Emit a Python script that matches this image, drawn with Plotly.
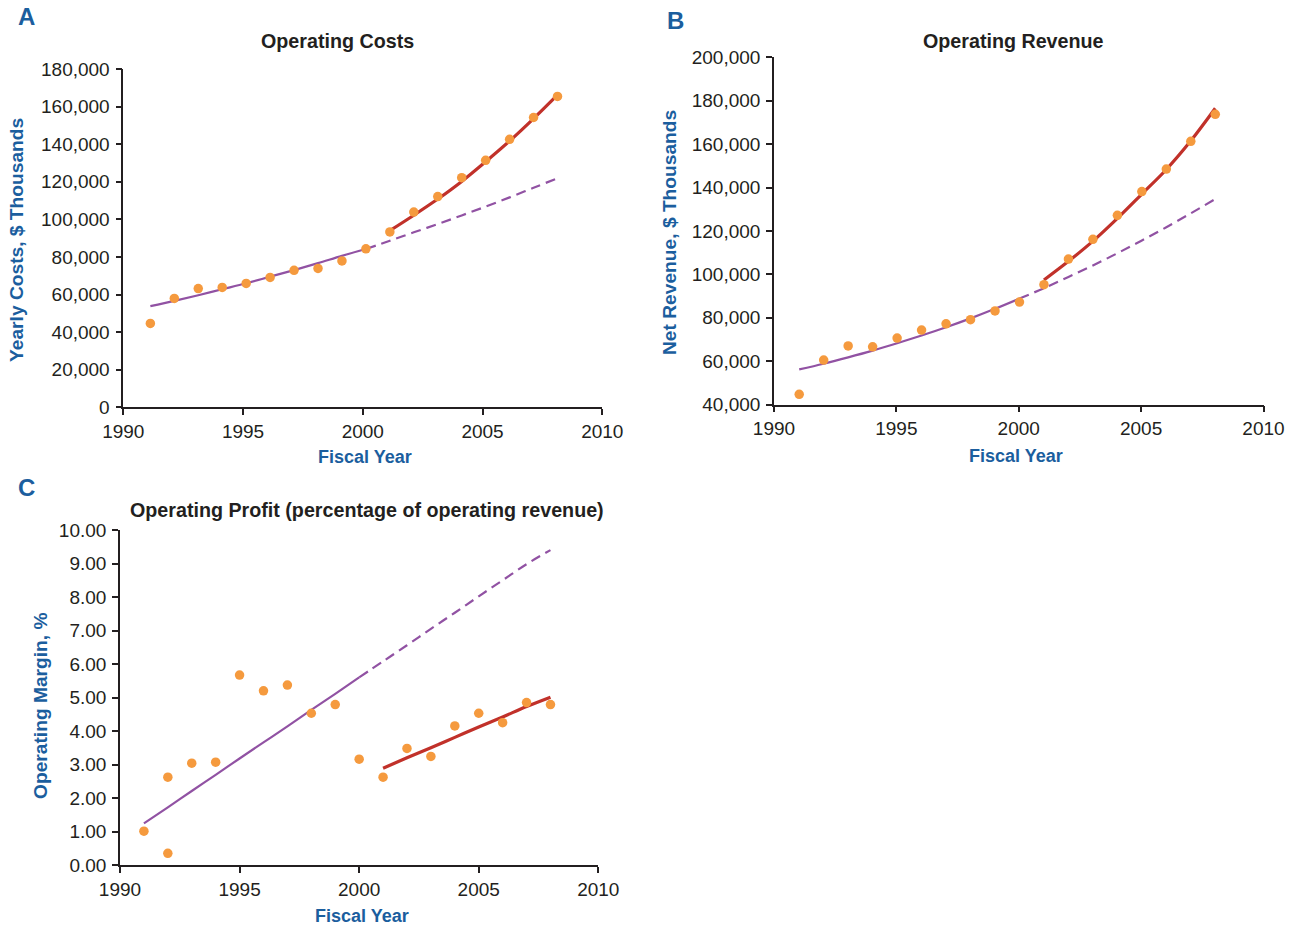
import plotly.graph_objects as go

W, H = 1299, 927

# ---------------- data ----------------
years = [1991, 1992, 1993, 1994, 1995, 1996, 1997, 1998, 1999,
         2000, 2001, 2002, 2003, 2004, 2005, 2006, 2007, 2008]
years_late = [2001, 2002, 2003, 2004, 2005, 2006, 2007, 2008]

# A: operating costs, $ thousands
costs = [44600, 57900, 63200, 63800, 65900, 69100, 72900, 73900, 77900,
         84300, 93300, 103900, 112100, 122200, 131400, 142600, 154200, 165400]
costs_trend_early = [53800, 56600, 59600, 62800, 66000, 69500, 73000, 76700, 80600,
                     84200, 88600, 93100, 97500, 102100, 106800, 111700, 116800, 121900]
costs_trend_late = [94000, 102200, 110800, 120200, 130700, 141700, 153600, 166200]

# B: net operating revenue, $ thousands
revenue = [44700, 60500, 67000, 66600, 70600, 74300, 77200, 79100, 83100,
           87200, 95200, 107000, 116100, 127200, 138100, 148500, 161300, 173700]
revenue_trend_early = [56200, 58800, 61700, 64800, 68200, 71800, 75600, 79700, 84100,
                       88800, 93600, 98800, 104100, 109700, 115600, 121700, 128100, 134700]
revenue_trend_late = [97400, 106000, 115300, 125800, 137000, 148300, 161500, 176500]

# C: operating margin, %
margin_years = [1991, 1992, 1992, 1993, 1994, 1995, 1996, 1997, 1998, 1999,
                2000, 2001, 2002, 2003, 2004, 2005, 2006, 2007, 2008]
margin = [1.01, 0.35, 2.62, 3.04, 3.07, 5.67, 5.20, 5.37, 4.53, 4.79,
          3.16, 2.62, 3.48, 3.24, 4.15, 4.53, 4.25, 4.85, 4.79]
margin_trend_early = [1.24, 1.72, 2.21, 2.69, 3.18, 3.66, 4.14, 4.63, 5.11,
                      5.60, 6.08, 6.56, 7.05, 7.53, 8.02, 8.50, 8.98, 9.40]
margin_trend_late = [2.89, 3.20, 3.50, 3.81, 4.12, 4.42, 4.73, 5.01]

x_ticks = [1990, 1995, 2000, 2005, 2010]

# ---------------- styling ----------------
DOT = "#f59a3e"
PURPLE = "#9152a3"
RED = "#c1312a"
BLUE = "#1b5e9e"
INK = "#231f20"
FONT = "Liberation Sans, Arial, sans-serif"

# small per-panel shift: values are plotted mid fiscal year in A
shift = {"A": 0.13, "B": 0.03, "C": 0.0}


def px(x):
    return x / W


def py(y):
    return 1 - y / H


def sx(xs, key):
    return [v + shift[key] for v in xs]


fig = go.Figure()


def add_panel(key, xa, ya, xs_pts, ys_pts, trend_early, trend_late, red_w=3.2):
    n_solid = 10  # fiscal 1991-2000 fitted, later years projected
    fig.add_trace(go.Scatter(
        x=sx(years[:n_solid], key), y=trend_early[:n_solid], mode="lines",
        line=dict(color=PURPLE, width=2.2, shape="spline"),
        xaxis=xa, yaxis=ya, hoverinfo="skip"))
    fig.add_trace(go.Scatter(
        x=sx(years[n_solid - 1:], key), y=trend_early[n_solid - 1:], mode="lines",
        line=dict(color=PURPLE, width=2.2, dash="10px,6px", shape="spline"),
        xaxis=xa, yaxis=ya, hoverinfo="skip"))
    fig.add_trace(go.Scatter(
        x=sx(years_late, key), y=trend_late, mode="lines",
        line=dict(color=RED, width=red_w, shape="spline"),
        xaxis=xa, yaxis=ya, hoverinfo="skip"))
    fig.add_trace(go.Scatter(
        x=sx(xs_pts, key), y=ys_pts, mode="markers",
        marker=dict(color=DOT, size=9.5, line=dict(width=0)),
        xaxis=xa, yaxis=ya))


add_panel("A", "x", "y", years, costs, costs_trend_early, costs_trend_late)
add_panel("B", "x2", "y2", years, revenue, revenue_trend_early, revenue_trend_late)
add_panel("C", "x3", "y3", margin_years, margin, margin_trend_early, margin_trend_late)

axis_common = dict(
    showline=True, linecolor=INK, linewidth=1.6,
    ticks="outside", ticklen=6, tickwidth=1.6, tickcolor=INK,
    showgrid=False, zeroline=False, automargin=False,
    tickfont=dict(family=FONT, size=19, color=INK),
)

xa_common = dict(axis_common, range=[1990, 2010], tickvals=x_ticks)
ya_common = dict(axis_common, ticklabelstandoff=2)

fig.update_layout(
    template="none",
    width=W, height=H,
    margin=dict(l=0, r=0, t=0, b=0, pad=0),
    paper_bgcolor="white", plot_bgcolor="white",
    showlegend=False,
    xaxis=dict(xa_common, domain=[px(123.3), px(602.3)], anchor="y"),
    yaxis=dict(ya_common, domain=[py(407.3), py(69)], anchor="x",
               range=[0, 180000], dtick=20000, tickformat=","),
    xaxis2=dict(xa_common, domain=[px(774), px(1263.5)], anchor="y2"),
    yaxis2=dict(ya_common, domain=[py(404.5), py(57.3)], anchor="x2",
                range=[40000, 200000], dtick=20000, tickformat=","),
    xaxis3=dict(xa_common, domain=[px(120), px(598.3)], anchor="y3"),
    yaxis3=dict(ya_common, domain=[py(865), py(530)], anchor="x3",
                range=[0, 10], dtick=1, tickformat=".2f"),
)

annotations = []


def text(x, y, s, size, color, bold=True, angle=0):
    annotations.append(dict(
        x=px(x), y=py(y), xref="paper", yref="paper",
        text=f"<b>{s}</b>" if bold else s, showarrow=False,
        xanchor="center", yanchor="middle", textangle=angle,
        font=dict(family=FONT, size=size, color=color)))


# panel letters
text(27, 17, "A", 24, BLUE)
text(676, 20, "B", 24, BLUE)
text(27, 487, "C", 24, BLUE)

# panel titles
text(337, 41, "Operating Costs", 19.7, INK)
text(1013, 41, "Operating Revenue", 19.7, INK)
text(367, 510, "Operating Profit (percentage of operating revenue)", 19.7, INK)

# axis titles
text(365, 457, "Fiscal Year", 18, BLUE)
text(1016, 456, "Fiscal Year", 18, BLUE)
text(362, 916, "Fiscal Year", 18, BLUE)
text(16, 240, "Yearly Costs, $ Thousands", 19.2, BLUE, angle=-90)
text(670, 233, "Net Revenue, $ Thousands", 19.2, BLUE, angle=-90)
text(40, 706, "Operating Margin, %", 19.2, BLUE, angle=-90)

fig.update_layout(annotations=annotations)

fig.write_html("out.html")
